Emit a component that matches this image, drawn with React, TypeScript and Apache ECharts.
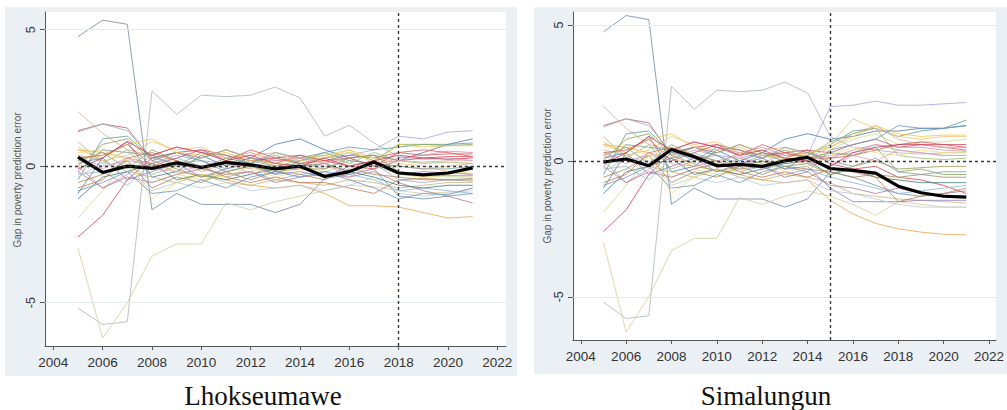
import React, { useEffect, useRef } from "react";
import * as echarts from "echarts";

const years = [2005, 2006, 2007, 2008, 2009, 2010, 2011, 2012, 2013, 2014, 2015, 2016, 2017, 2018, 2019, 2020, 2021];
const xTickValues = [2004, 2006, 2008, 2010, 2012, 2014, 2016, 2018, 2020, 2022];
const yTickValues = [-5, 0, 5];
const yGridValues = [-5, 5];

const panelNames = ["Lhokseumawe", "Simalungun"];
const treatYears = [2018, 2015];
const yAxisTitle = "Gap in poverty prediction error";

// treated unit gaps (thick black line), 2005..2021
const lhoTreated = [0.33, -0.23, 0.0, -0.08, 0.12, -0.05, 0.14, 0.05, -0.1, 0.0, -0.38, -0.2, 0.15, -0.25, -0.32, -0.25, -0.06];
const simTreated = [-0.04, 0.07, -0.18, 0.42, 0.15, -0.18, -0.13, -0.2, 0.0, 0.13, -0.28, -0.35, -0.45, -0.93, -1.17, -1.3, -1.33];

const placeboColors = [
  "#6d8aa8", "#aab4be", "#d6cc9c", "#eea24a", "#a9a3e2", "#c05c64", "#e0a890", "#cc4455",
  "#cfd88a", "#9aaec4", "#4f79a8", "#5e9c96", "#82a85c", "#eccb4a", "#e08aa4", "#8fb4cf",
  "#c4b882", "#b07a96", "#f4c07a", "#3f7d78", "#d85a5a", "#a88b58", "#8c7ac0", "#9cbc6e",
  "#c47a50", "#b8c8d8", "#f2dc80", "#7a9c9a", "#e4a0b0", "#6a95c0", "#c83a5a", "#9a9a50",
];

// placebo gaps 2005..2014 (shared pre-period)
const placeboPre = [
  [4.75, 5.35, 5.2, -1.6, -1.0, -1.4, -1.4, -1.4, -1.7, -1.4],
  [-5.2, -5.8, -5.7, 2.75, 1.9, 2.6, 2.55, 2.6, 2.9, 2.5],
  [-3.0, -6.3, -5.0, -3.3, -2.85, -2.85, -1.35, -1.6, -1.3, -1.1],
  [0.6, 0.5, 0.3, 0.1, -0.2, -0.35, -0.5, -0.7, -0.8, -0.7],
  [0.3, 0.0, 0.2, 0.1, 0.4, 0.2, 0.1, 0.3, 0.2, 0.2],
  [1.3, 1.55, 1.4, 0.2, 0.5, 0.3, 0.6, 0.3, 0.1, 0.4],
  [2.0, 1.2, 0.6, 0.4, 0.2, -0.2, 0.1, -0.1, 0.3, 0.1],
  [-2.6, -1.8, -0.5, 0.3, 0.5, 0.6, 0.4, 0.2, 0.3, 0.4],
  [-1.9, -0.9, 0.2, -0.6, -0.3, -0.5, -0.3, -0.2, 0.1, 0.0],
  [1.25, 1.55, 1.3, 0.3, 0.1, 0.2, -0.1, 0.2, 0.0, 0.1],
  [-1.0, 0.3, 0.9, -0.4, -0.2, 0.4, 0.0, 0.3, 0.8, 1.0],
  [-0.5, 1.0, 1.1, 0.3, 0.5, 0.2, -0.2, 0.0, -0.3, 0.2],
  [0.2, 0.5, -0.1, 0.6, 0.2, -0.1, 0.3, 0.1, 0.4, 0.1],
  [0.6, 0.3, 0.8, 1.0, 0.5, 0.4, 0.5, 0.2, 0.1, 0.3],
  [0.0, -0.8, -0.3, 0.4, 0.7, 0.5, 0.3, 0.5, 0.2, 0.3],
  [-0.3, -0.2, -0.7, 0.1, 0.3, 0.0, -0.4, -0.2, -0.5, -0.3],
  [0.4, 0.2, -0.2, -0.4, -0.6, -0.3, -0.6, -0.7, -0.5, -0.6],
  [-0.2, -0.8, -0.4, -0.6, -0.3, -0.1, -0.3, -0.2, -0.6, -0.4],
  [0.7, 0.2, 0.4, 0.9, 0.6, 0.7, 0.3, 0.4, 0.5, 0.2],
  [-1.2, -0.4, -0.2, 0.1, -0.5, -0.3, -0.5, -0.3, -0.1, 0.0],
  [0.3, 0.4, 0.8, 0.0, 0.3, 0.6, 0.2, 0.6, 0.3, 0.1],
  [-0.6, -0.3, 0.2, -0.8, -0.4, -0.6, -0.2, -0.5, -0.2, -0.3],
  [0.1, 0.3, -0.5, -0.2, 0.1, -0.4, -0.1, 0.1, -0.3, -0.2],
  [0.9, 0.1, 0.6, -0.3, 0.0, 0.3, 0.6, 0.3, 0.0, 0.2],
  [-0.8, -0.5, 0.3, 0.5, 0.2, 0.0, -0.4, -0.6, -0.4, -0.6],
  [-0.4, 0.1, 0.0, -0.9, -0.6, -0.8, -0.6, -0.9, -0.8, -0.7],
  [0.5, 0.6, 0.2, -1.2, -0.6, -0.3, -0.4, 0.0, -0.4, -0.2],
  [-0.2, 0.6, 0.5, 0.4, 0.0, 0.5, 0.4, 0.1, 0.5, 0.3],
  [0.2, -0.1, 0.3, -0.1, -0.2, 0.0, 0.2, -0.3, 0.0, -0.1],
  [-0.9, -0.6, -0.2, -1.0, -0.9, -0.5, -0.8, -0.4, -0.2, -0.4],
  [-0.1, 0.3, 0.9, 0.4, 0.7, 0.5, 0.2, 0.4, 0.1, 0.0],
  [0.0, 0.8, 1.0, 0.2, -0.1, -0.4, -0.2, 0.0, -0.2, -0.1],
];

// placebo gaps 2015..2021, Lhokseumawe panel
const lhoPost = [
  [-0.45, -0.3, -0.1, -1.1, -1.2, -1.1, -1.0],
  [1.1, 1.5, 0.85, 0.35, 0.25, 0.3, 0.2],
  [-0.9, -0.7, -0.75, -0.9, -1.0, -0.95, -0.9],
  [-1.0, -1.45, -1.45, -1.5, -1.7, -1.9, -1.85],
  [0.3, 0.4, 0.6, 1.1, 1.0, 1.25, 1.3],
  [0.2, 0.4, 0.3, 0.5, 0.4, 0.45, 0.45],
  [0.0, -0.2, 0.1, 0.0, -0.1, 0.0, 0.1],
  [0.2, 0.0, -0.1, 0.2, 0.3, 0.35, 0.35],
  [-0.2, 0.1, 0.0, -0.3, -0.35, -0.4, -0.4],
  [-0.1, 0.2, 0.1, -0.5, -0.6, -0.5, -0.55],
  [0.6, 0.3, 0.4, 0.2, 0.5, 0.8, 1.0],
  [0.5, 0.7, 0.6, 0.7, 0.8, 0.8, 0.85],
  [0.3, 0.5, 0.2, 0.8, 0.8, 0.75, 0.8],
  [0.4, 0.6, 0.1, 0.8, 0.7, 0.75, 0.75],
  [0.1, 0.3, 0.0, 0.3, 0.4, 0.55, 0.5],
  [-0.2, -0.3, -0.5, -0.9, -0.8, -0.9, -1.0],
  [-0.7, -0.5, -0.6, -0.8, -0.7, -0.6, -0.6],
  [-0.3, -0.4, -0.2, -0.6, -0.9, -1.1, -1.35],
  [0.3, 0.6, 0.3, 0.1, 0.0, -0.2, -0.3],
  [0.1, -0.2, -0.4, -0.7, -0.8, -0.7, -0.7],
  [0.2, 0.3, 0.0, 0.5, 0.6, 0.5, 0.35],
  [-0.5, -0.1, -0.3, -0.4, -0.5, -0.5, -0.45],
  [-0.4, 0.0, 0.2, -0.3, -0.2, -0.25, -0.3],
  [0.4, 0.1, 0.5, 0.2, 0.1, 0.15, 0.1],
  [-0.6, -0.8, -1.0, -0.5, -0.45, -0.5, -0.5],
  [-0.9, -0.7, -0.4, -1.0, -1.1, -1.0, -0.8],
  [0.3, 0.5, 0.3, -0.3, -0.4, -0.3, -0.2],
  [0.5, 0.2, 0.1, 0.0, -0.1, -0.1, 0.0],
  [0.1, -0.4, 0.1, 0.2, 0.15, 0.2, 0.2],
  [-0.2, -0.5, -0.8, -1.2, -1.0, -1.05, -0.8],
  [0.3, 0.0, 0.2, 0.4, 0.3, 0.25, 0.3],
  [-0.1, 0.3, 0.4, -0.2, -0.3, -0.35, -0.35],
];

// placebo gaps 2015..2021, Simalungun panel
const simPost = [
  [-0.4, -0.6, -0.9, -1.2, -1.3, -1.2, -1.1],
  [0.9, 0.5, 0.4, 0.3, 0.25, 0.3, 0.3],
  [-1.3, -1.6, -2.0, -1.5, -1.6, -1.7, -1.7],
  [-1.45, -1.95, -2.3, -2.5, -2.62, -2.7, -2.72],
  [2.0, 2.05, 2.2, 2.05, 2.05, 2.1, 2.15],
  [0.3, 0.6, 0.8, 0.5, 0.6, 0.5, 0.4],
  [0.5, 1.0, 1.3, 0.8, 0.6, 0.5, 0.5],
  [-0.1, -0.3, -0.2, -0.6, -0.7, -0.9, -1.2],
  [0.4, 0.8, 1.0, 0.6, 0.7, 0.7, 0.8],
  [0.2, 0.3, 0.6, 0.4, 0.3, 0.2, 0.2],
  [0.8, 0.9, 1.1, 1.1, 1.2, 1.2, 1.3],
  [0.6, 1.1, 1.2, 0.9, 1.1, 1.2, 1.5],
  [0.3, 0.2, 0.5, -0.4, -0.3, -0.5, -0.5],
  [0.5, 0.9, 1.3, 1.0, 0.9, 0.95, 0.95],
  [0.1, 0.4, 0.6, 0.5, 0.5, 0.4, 0.35],
  [-0.6, -0.8, -1.0, -1.2, -1.1, -1.0, -0.9],
  [-0.8, -1.2, -1.3, -1.4, -1.45, -1.5, -1.55],
  [-0.9, -1.0, -1.2, -1.0, -1.2, -1.25, -1.3],
  [0.6, 1.55, 1.2, 0.9, 0.8, 0.9, 0.9],
  [-0.5, -0.3, -0.6, -0.7, -0.8, -0.8, -0.8],
  [0.1, 0.2, 0.4, 0.6, 0.7, 0.6, 0.5],
  [-0.4, -0.6, -0.5, -0.6, -0.5, -0.6, -0.6],
  [-1.0, -1.5, -1.5, -1.5, -1.45, -1.45, -1.45],
  [0.7, 1.0, 1.2, 0.2, 0.1, 0.05, 0.1],
  [-0.3, -0.4, -0.6, -1.5, -1.3, -1.2, -1.0],
  [-1.1, -1.2, -1.4, -1.6, -1.7, -1.7, -1.7],
  [0.2, 0.5, 0.3, 0.2, 0.4, 0.3, 0.3],
  [0.0, -0.2, 0.1, -0.4, -0.5, -0.4, -0.4],
  [-0.2, 0.2, 0.0, 0.4, 0.3, 0.2, 0.2],
  [0.4, 0.6, 0.8, 1.3, 1.2, 1.2, 1.3],
  [-0.2, 0.3, 0.5, 0.6, 0.6, 0.6, 0.6],
  [-0.5, -0.2, 0.0, -0.3, -0.25, -0.2, -0.2],
];

const SANS = "'Liberation Sans', Arial, sans-serif";
const SERIF = "'Liberation Serif', 'Times New Roman', serif";

// layout (pixels)
const panels = [
  { bg: [5, 7, 512, 369], grid: { left: 45, top: 12, width: 461, height: 334 },
    x: [2003.664, 2022.35], y: [-6.59, 5.65], titleX: 17.5, titleY: 180, capX: 263, capY: 396 },
  { bg: [534, 7, 473, 367], grid: { left: 573, top: 12, width: 424, height: 328 },
    x: [2003.657, 2022.31], y: [-6.59, 5.48], titleX: 547, titleY: 176, capX: 766, capY: 396 },
];

export default function App() {
  const ref = useRef<HTMLDivElement>(null);
  useEffect(() => {
    if (!ref.current) return;
    const chart = echarts.init(ref.current, undefined, { renderer: "svg" });
    const posts = [lhoPost, simPost];
    const treated = [lhoTreated, simTreated];
    const series: any[] = [];
    panels.forEach((p, i) => {
      series.push({
        type: "line", xAxisIndex: i, yAxisIndex: i, data: [], z: 1, silent: true,
        markLine: {
          silent: true, symbol: "none", label: { show: false },
          lineStyle: { color: "#e4eaee", width: 1, type: "solid" },
          data: yGridValues.map((v) => ({ yAxis: v })),
        },
      });
      placeboPre.forEach((pre, j) => {
        const vals = pre.concat(posts[i][j]);
        series.push({
          type: "line", xAxisIndex: i, yAxisIndex: i, z: 2, silent: true,
          showSymbol: false, symbol: "none",
          lineStyle: { color: placeboColors[j], width: 1, opacity: 0.8 },
          data: years.map((yr, k) => [yr, vals[k]]),
        });
      });
      series.push({
        type: "line", xAxisIndex: i, yAxisIndex: i, data: [], z: 3, silent: true,
        markLine: {
          silent: true, symbol: "none", label: { show: false },
          lineStyle: { color: "#3a3a3a", width: 1.4, type: [3, 3] },
          data: [{ yAxis: 0 }, { xAxis: treatYears[i] }],
        },
      });
      series.push({
        type: "line", xAxisIndex: i, yAxisIndex: i, z: 4, silent: true,
        showSymbol: false, symbol: "none",
        lineStyle: { color: "#000", width: 3.2 },
        data: years.map((yr, k) => [yr, treated[i][k]]),
      });
    });

    const graphic: any[] = [];
    panels.forEach((p, i) => {
      graphic.push({
        type: "rect", z: -10, silent: true,
        shape: { x: p.bg[0], y: p.bg[1], width: p.bg[2], height: p.bg[3] },
        style: { fill: "#eaf0f4" },
      });
      graphic.push({
        type: "text", z: 10, x: p.titleX, y: p.titleY, rotation: Math.PI / 2, silent: true,
        style: { text: yAxisTitle, fontSize: 10, fontFamily: SANS, fill: "#555", align: "center", verticalAlign: "middle" },
      });
      graphic.push({
        type: "text", z: 10, x: p.capX, y: p.capY, silent: true,
        style: { text: panelNames[i], fontSize: 27, lineHeight: 24, fontFamily: SERIF, fill: "#111", align: "center", verticalAlign: "middle" },
      });
    });

    chart.setOption({
      animation: false,
      backgroundColor: "#fff",
      grid: panels.map((p) => ({
        ...p.grid, show: true, backgroundColor: "#fff", borderWidth: 0, containLabel: false,
      })),
      xAxis: panels.map((p, i) => ({
        type: "value", gridIndex: i, min: p.x[0], max: p.x[1],
        axisLine: { show: true, onZero: false, lineStyle: { color: "#555", width: 1 } },
        axisTick: { show: true, customValues: xTickValues, length: 4, lineStyle: { color: "#555" } },
        axisLabel: {
          show: true, customValues: xTickValues, fontSize: 13.5, fontFamily: SANS, color: "#333", margin: 9,
          formatter: (v: number) => String(Math.round(v)),
        },
        splitLine: { show: false },
      })),
      yAxis: panels.map((p, i) => ({
        type: "value", gridIndex: i, min: p.y[0], max: p.y[1],
        axisLine: { show: true, onZero: false, lineStyle: { color: "#555", width: 1 } },
        axisTick: { show: true, customValues: yTickValues, length: 5, lineStyle: { color: "#555" } },
        axisLabel: {
          show: true, customValues: yTickValues, rotate: 90, fontSize: 12.5, fontFamily: SANS, color: "#333", margin: 8,
          formatter: (v: number) => String(Math.round(v)),
        },
        splitLine: { show: false },
      })),
      graphic,
      series,
    });
    return () => chart.dispose();
  }, []);
  return <div ref={ref} style={{ position: "absolute", left: 0, top: 0, width: 1007, height: 410 }} />;
}
